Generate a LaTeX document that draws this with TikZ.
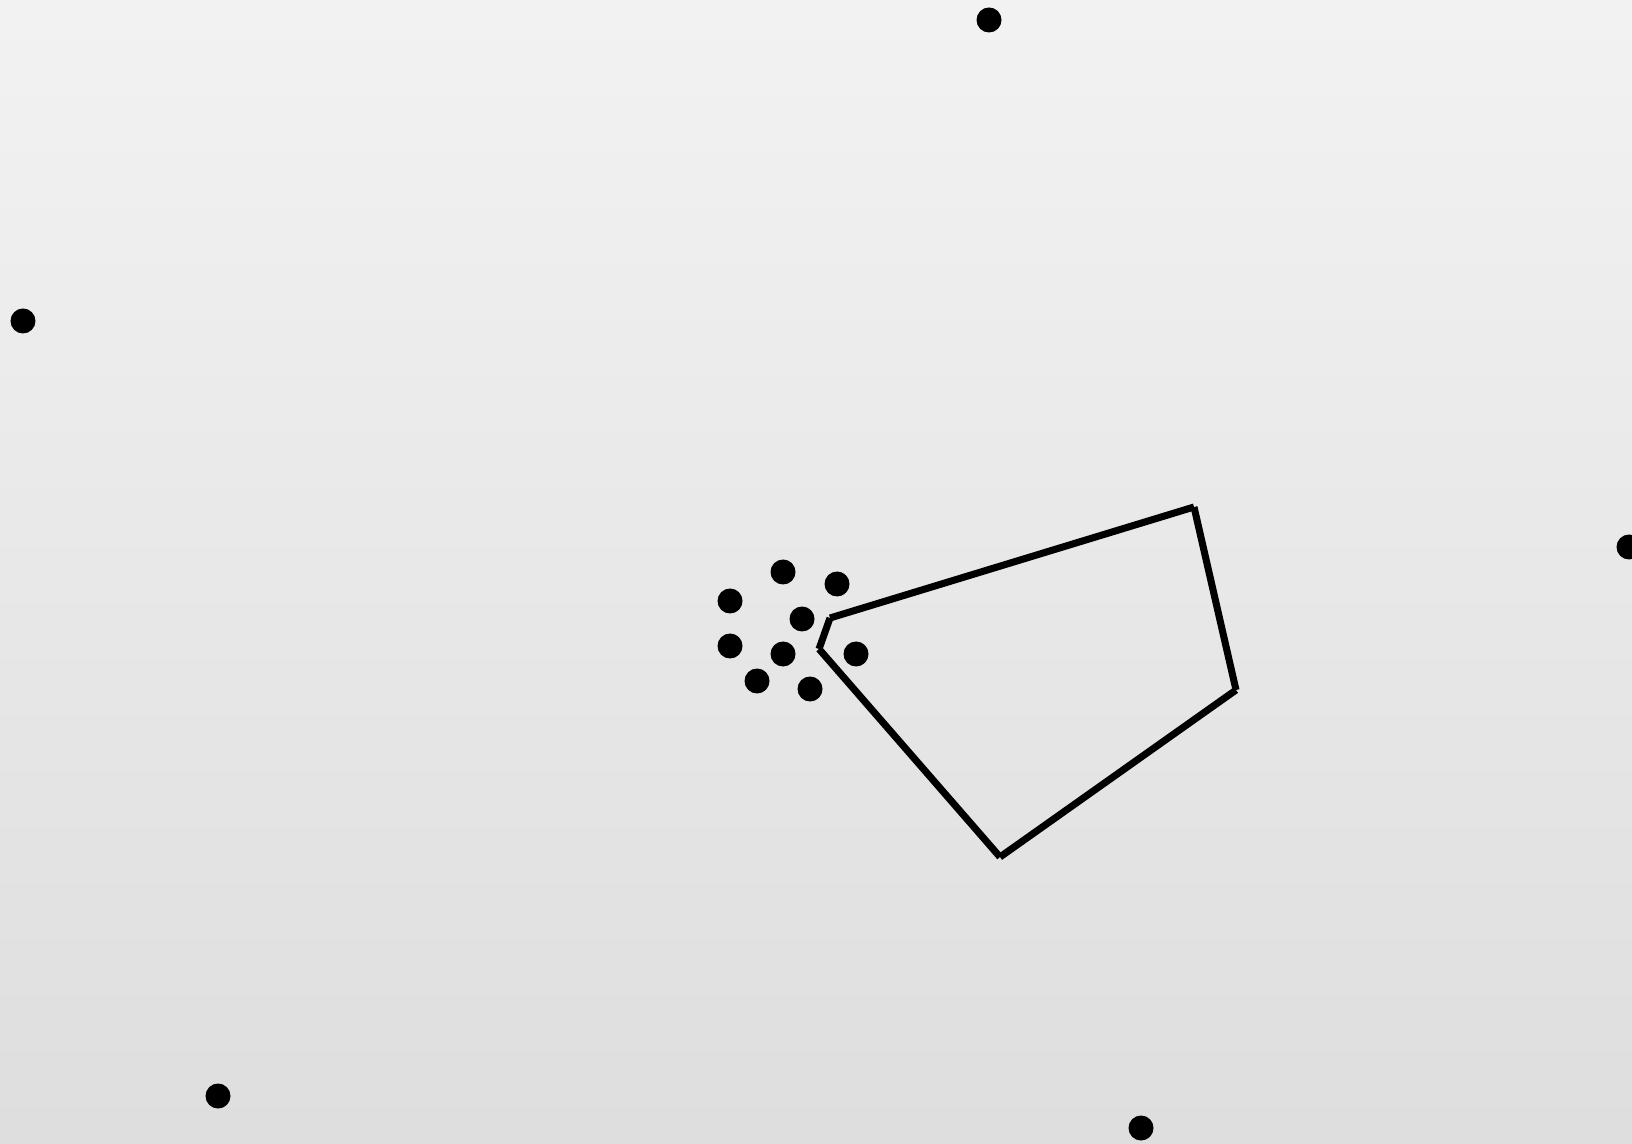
\documentclass[tikz,border=0pt]{standalone}
\usepackage{tikz}
\usetikzlibrary{positioning,calc}

\tikzset{
  dot/.style={circle, fill=black, inner sep=0pt, minimum size=0.25cm},
  edge/.style={line width=2pt, black}
}

\begin{document}
\begin{tikzpicture}
  \useasboundingbox (0,0) rectangle (16.32,11.43);
  \shade[top color=black!5, bottom color=black!13] (0,0) rectangle (16.32,11.43);
  % outer dots
  \node[dot] (top) at (9.89,11.23) {};
  \node[dot] (left) at (0.23,8.22) {};
  \node[dot] (right) at (16.29,5.96) {};
  \node[dot] (botleft) at (2.18,0.47) {};
  \node[dot] (bot) at (11.41,0.15) {};
  % cluster
  \node[dot] (c1) at (7.83,5.71) {};
  \node[dot] (c2) at (8.37,5.59) {};
  \node[dot] (c3) at (7.30,5.42) {};
  \node[dot] (c4) at (8.02,5.24) {};
  \node[dot] (c5) at (7.30,4.97) {};
  \node[dot] (c6) at (7.83,4.89) {};
  \node[dot] (c7) at (8.56,4.89) {};
  \node[dot] (c8) at (7.57,4.62) {};
  \node[dot] (c9) at (8.10,4.54) {};
  % polygon
  \coordinate (pa) at (8.30,5.25);
  \coordinate (pb) at (11.94,6.36);
  \coordinate (pc) at (12.36,4.53);
  \coordinate (pd) at (10.00,2.86);
  \coordinate (pe) at (8.19,4.94);
  \draw[edge] (pa) -- (pb);
  \draw[edge] (pb) -- (pc);
  \draw[edge] (pc) -- (pd);
  \draw[edge] (pd) -- (pe);
  \draw[edge] (pe) -- (pa);
\end{tikzpicture}
\end{document}
